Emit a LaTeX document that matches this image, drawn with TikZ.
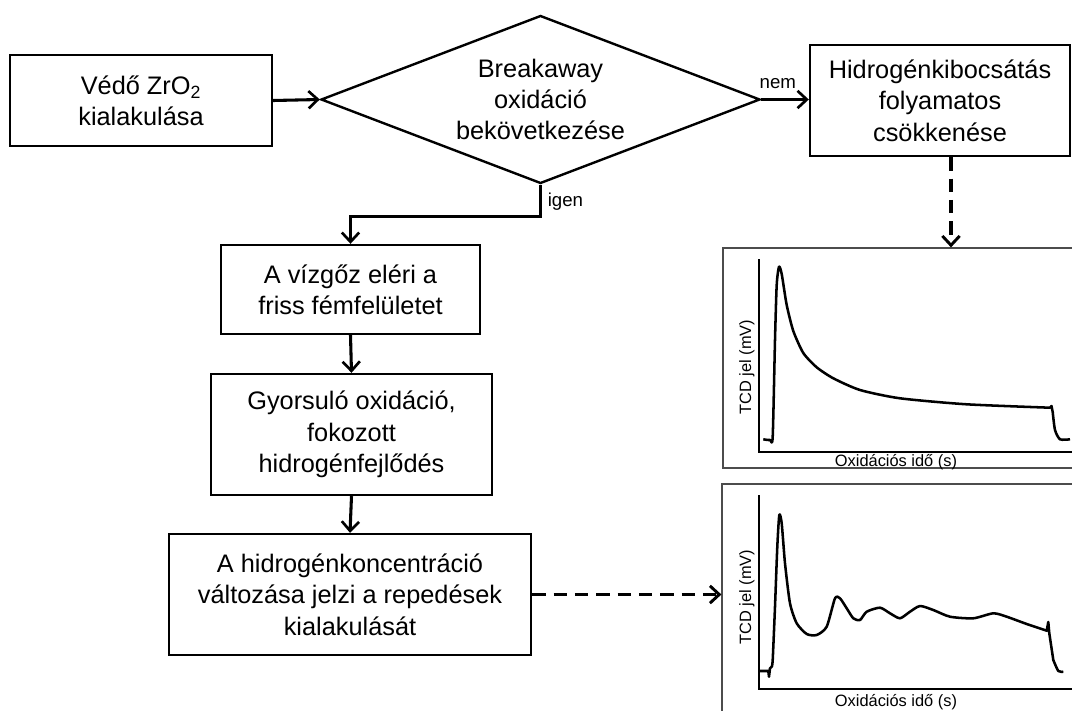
\documentclass[tikz,border=0pt]{standalone}
\usepackage{fontspec}
\setmainfont{Liberation Sans}
\usetikzlibrary{arrows.meta,shapes.geometric,calc}
\begin{document}
\begin{tikzpicture}[x=0.75pt,y=-0.75pt,
  sz/.style 2 args={minimum width=#1*0.75pt,minimum height=#2*0.75pt},
  mainfont/.style={font=\fontsize{19}{23.5}\selectfont},
  box/.style={draw,line width=1.8pt,align=center,inner sep=0pt,mainfont},
  decision/.style={draw,diamond,line width=1.8pt,aspect=2.62,inner sep=0pt,align=center,mainfont},
  arr/.style={line width=2.3pt,-{Straight Barb[length=7pt,width=13pt,line width=2pt]}},
  dasharr/.style={line width=2.6pt,dash pattern=on 10pt off 6pt,-{Straight Barb[length=7pt,width=13pt,line width=2.2pt]}},
  plotframe/.style={draw=black!70,line width=0.9pt,inner sep=0pt},
  axis/.style={line width=0.9pt},
  curve/.style={line width=1.9pt,line join=round},
  lbl/.style={font=\fontsize{14}{16}\selectfont,inner sep=0pt},
  axlbl/.style={font=\fontsize{12.3}{14}\selectfont,inner sep=0pt}]
\useasboundingbox (0,0) rectangle (1072,711);
\clip (0,0) rectangle (1072,711);

% flowchart nodes
\node[box,sz={262}{91}] (b1) at (141,100.5) {Védő ZrO\textsubscript{2}\\kialakulása};
\node[decision,minimum width=439*0.75pt,minimum height=168*0.75pt] (d) at (540.5,99.5)
  {Breakaway\\oxidáció\\bekövetkezése};
\node[box,sz={260}{111}] (b5) at (940,100.5) {Hidrogénkibocsátás\\folyamatos\\csökkenése};
\node[box,sz={259}{89}] (b2) at (350.5,289.5) {A vízgőz eléri a\\friss fémfelületet};
\node[box,sz={281}{121}] (b3) at (351.5,434.5) {Gyorsuló oxidáció,\\fokozott\\hidrogénfejlődés};
\node[box,sz={362}{121}] (b4) at (350,594.5) {A hidrogénkoncentráció\\változása jelzi a repedések\\kialakulását};

% plot frames
\node[plotframe,sz={357}{220}] (pA) at (901.5,358) {};
\node[plotframe,sz={358}{236}] (pB) at (901,602) {};

% connectors
\draw[arr] (b1.east) -- (d.west);
\draw[arr] (d.east) -- (b5.west |- d.east) node[lbl,pos=0.35,above=7pt] {nem};
\draw[arr] (d.south) -- ++(0,32) coordinate (bend) -| (b2.north);
\node[lbl,anchor=west] (igen) at ($(d.south)+(7,17)$) {igen};
\draw[arr] (b2.south) -- (b3.north);
\draw[arr] (b3.south) -- (b4.north);
\draw[dasharr] ([xshift=8.25pt]b5.south) -- ([xshift=8.25pt]b5.south |- pA.north);
\draw[dasharr] (b4.east) -- (b4.east -| pB.west);

% plot 1
\draw[axis] (759,259) -- (759,452) -- (1080,452);
\node[axlbl,rotate=90] (ya) at (747,367) {TCD jel (mV)};
\node[axlbl] (xa) at (896,462) {Oxidációs idő (s)};
\draw[curve] plot[smooth,tension=0.4] coordinates {
 (763.3,439.3) (770,440) (772.7,436.7) (775,340) (776.7,285) (779,266.7)
 (781.7,274) (786.7,305) (793.3,331) (803.3,353) (816.7,367.3) (833.3,378.3)
 (860,390) (900,398.3) (966.7,404.3) (1050,407.7)} -- (1051.5,406) --
 plot[smooth,tension=0.4] coordinates {(1052.7,412) (1055,430) (1060,439.3) (1070,439.3)};

% plot 2
\draw[axis] (759,495) -- (759,689) -- (1080,689);
\node[axlbl,rotate=90] (yb) at (747,597) {TCD jel (mV)};
\node[axlbl] (xb) at (896,702) {Oxidációs idő (s)};
\draw[curve] (759.3,671) -- (768.3,671) -- (769,676.7) -- (770,668.3) --
 plot[smooth,tension=0.4] coordinates {
 (771.7,666.7) (772.7,660) (775,606.7) (777.3,546.7) (779.3,515) (781.7,523.3)
 (785,563.3) (790,603.3) (796.7,623.3) (806.7,634) (816.7,635) (826.7,626.7)
 (835,598.3) (840,598.3) (846.7,608.3) (853.3,618.3) (860,620) (866.7,611.7)
 (880,607.7) (890,613.3) (900,618.3) (910,611.7) (920,606) (933.3,610)
 (950,616.7) (973.3,618.3) (993.3,613.3) (1006.7,616.7) (1026.7,624) (1046.7,630.7)}
 -- (1048.3,622) -- (1049.3,633.3) --
 plot[smooth,tension=0.4] coordinates {(1053.3,660) (1058.3,671) (1063.3,671.7)};
\end{tikzpicture}
\end{document}
